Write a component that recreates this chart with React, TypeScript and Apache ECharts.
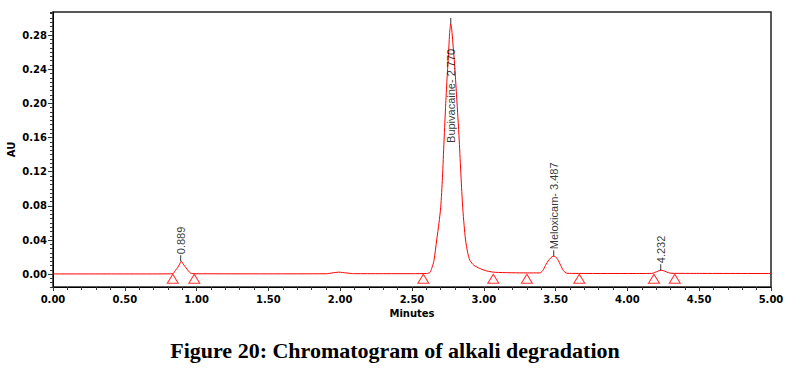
import React, { useEffect, useRef } from "react";
import * as echarts from "echarts";

// Detector trace (minutes, AU)
const traceTime = [
  0, 0.5, 0.8, 0.838, 0.855, 0.868, 0.882, 0.894, 0.91, 0.926, 0.942, 0.959, 0.99,
  1.5, 1.9, 1.95, 1.99, 2.04, 2.1, 2.5, 2.6, 2.625, 2.637, 2.653, 2.672, 2.688, 2.7,
  2.712, 2.723, 2.735, 2.745, 2.752, 2.762, 2.77, 2.777, 2.784, 2.797, 2.81, 2.82,
  2.829, 2.841, 2.853, 2.863, 2.873, 2.888, 2.904, 2.93, 2.974, 3.02, 3.08, 3.3,
  3.39, 3.41, 3.43, 3.455, 3.475, 3.487, 3.5, 3.515, 3.535, 3.555, 3.577, 3.62,
  4.0, 4.17, 4.19, 4.215, 4.238, 4.26, 4.285, 4.31, 4.5, 5.0,
];
const traceAU = [
  0.0003, 0.0003, 0.0004, 0.001, 0.005, 0.0076, 0.012, 0.0152, 0.011, 0.0076, 0.004, 0.0012, 0.0005,
  0.0004, 0.0005, 0.0016, 0.0024, 0.0015, 0.0006, 0.0006, 0.0008, 0.002, 0.0066, 0.016, 0.04, 0.06, 0.0785,
  0.113, 0.156, 0.2, 0.232, 0.25, 0.282, 0.293, 0.286, 0.272, 0.245, 0.21, 0.183,
  0.156, 0.115, 0.0785, 0.057, 0.04, 0.025, 0.016, 0.0105, 0.0066, 0.0038, 0.0022, 0.0015,
  0.0015, 0.004, 0.0105, 0.017, 0.0205, 0.021, 0.0203, 0.017, 0.0105, 0.004, 0.0012, 0.0009,
  0.0008, 0.0009, 0.002, 0.0037, 0.0047, 0.0035, 0.0018, 0.001, 0.0009, 0.0008,
];

// Integrated peaks
const peakTimes = [0.889, 2.77, 3.487, 4.232];
const peakApexAU = [0.0152, 0.293, 0.021, 0.0047];
const peakLabels = ["0.889", "Bupivacaine- 2.770", "Meloxicam- 3.487", "4.232"];

// Peak start / end markers (triangles)
const markerTimes = [0.834, 0.984, 2.579, 3.066, 3.3, 3.665, 4.185, 4.33];
const markerAU = [-0.0053, -0.0053, -0.0053, -0.0053, -0.0053, -0.0053, -0.0053, -0.0053];

// Axis ticks
const yMajorTicks = [0, 0.04, 0.08, 0.12, 0.16, 0.2, 0.24, 0.28];

const TITLE = "Figure 20: Chromatogram of alkali degradation";

export default function App() {
  const ref = useRef<HTMLDivElement>(null);
  useEffect(() => {
    if (!ref.current) return;
    const chart = echarts.init(ref.current, undefined, { renderer: "svg" });
    const axisFont = {
      fontFamily: "DejaVu Sans",
      fontWeight: "bold" as const,
      fontSize: 10,
      color: "#000",
    };
    const traceData = traceTime.map((t, i) => [t, traceAU[i]]);
    const markerData = markerTimes.map((t, i) => [t, markerAU[i]]);
    const peakData = peakTimes.map((t, i) => {
      const item: any = { value: [t, peakApexAU[i]], name: peakLabels[i] };
      if (i === 1) {
        item.label = { position: [0.5, 125] };
      }
      return item;
    });
    chart.setOption({
      animation: false,
      backgroundColor: "#fff",
      title: {
        text: TITLE,
        left: "center",
        top: 334,
        textStyle: {
          fontFamily: "Liberation Serif",
          fontWeight: "bold",
          fontSize: 22,
          color: "#000",
        },
      },
      grid: {
        left: 53,
        right: 19,
        top: 12,
        bottom: 86,
        containLabel: false,
        outerBoundsMode: "none",
        show: true,
        borderColor: "#222",
        borderWidth: 1.5,
        backgroundColor: "transparent",
      },
      xAxis: {
        type: "value",
        min: 0,
        max: 5,
        interval: 0.5,
        name: "Minutes",
        nameLocation: "middle",
        nameGap: 21,
        nameMoveOverlap: false,
        nameTextStyle: axisFont,
        axisLine: { show: true, onZero: false, lineStyle: { color: "#000", width: 1 } },
        axisTick: { show: true, length: 4, lineStyle: { color: "#333" } },
        minorTick: { show: true, splitNumber: 5, length: 3, lineStyle: { color: "#333" } },
        axisLabel: { ...axisFont, margin: 7, formatter: (v: number) => v.toFixed(2) },
        splitLine: { show: false },
      },
      yAxis: [
        {
          type: "value",
          min: -0.015,
          max: 0.307,
          position: "left",
          name: "AU",
          nameLocation: "middle",
          nameGap: 37,
          nameRotate: 90,
          nameMoveOverlap: false,
          nameTextStyle: axisFont,
          axisLine: { show: true, onZero: false, lineStyle: { color: "#000", width: 1 } },
          axisTick: { show: true, length: 5, customValues: yMajorTicks, lineStyle: { color: "#333" } },
          axisLabel: {
            ...axisFont,
            margin: 6,
            customValues: yMajorTicks,
            formatter: (v: number) => v.toFixed(2),
          },
          splitLine: { show: false },
        },
        {
          type: "value",
          min: -0.015,
          max: 0.307,
          interval: 0.005,
          position: "left",
          axisLine: { show: false },
          axisTick: { show: true, length: 3, lineStyle: { color: "#333" } },
          axisLabel: { show: false },
          splitLine: { show: false },
        },
      ],
      series: [
        {
          type: "line",
          data: traceData,
          yAxisIndex: 0,
          showSymbol: false,
          symbol: "none",
          smooth: 0.25,
          lineStyle: { color: "#ff0000", width: 1 },
          z: 3,
        },
        {
          type: "scatter",
          data: markerData,
          yAxisIndex: 0,
          symbol: "triangle",
          symbolSize: [11, 9],
          itemStyle: { color: "rgba(255,255,255,0)", borderColor: "#ff0000", borderWidth: 1 },
          z: 4,
        },
        {
          type: "scatter",
          data: peakData,
          yAxisIndex: 0,
          symbol: "rect",
          symbolSize: [1, 6],
          symbolOffset: [0, -3],
          itemStyle: { color: "#000" },
          label: {
            show: true,
            formatter: (p: any) => p.name,
            rotate: 90,
            position: "top",
            distance: 1,
            align: "left",
            verticalAlign: "middle",
            fontFamily: "Liberation Sans",
            fontSize: 11,
            color: "#000",
          },
          z: 5,
        },
      ],
    });
    return () => chart.dispose();
  }, []);
  return (
    <div
      ref={ref}
      style={{ position: "fixed", left: 0, top: 0, width: 790, height: 373, background: "#fff" }}
    />
  );
}
